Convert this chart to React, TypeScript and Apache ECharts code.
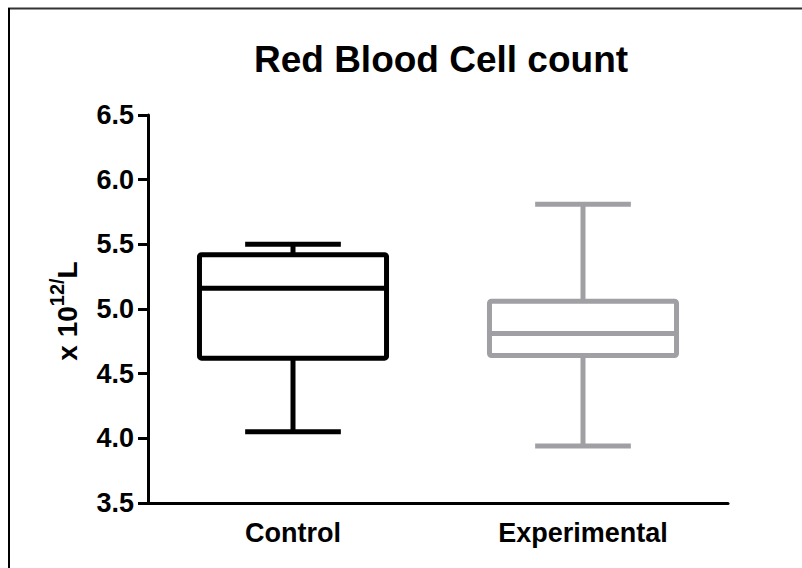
import React, { useEffect, useRef } from "react";
import * as echarts from "echarts";

const categories = ["Control", "Experimental"];
const whiskerMin = [4.05, 3.94];
const quartile1 = [4.62, 4.64];
const medians = [5.16, 4.81];
const quartile3 = [5.42, 5.06];
const whiskerMax = [5.5, 5.81];
const boxColors = ["#000000", "#a0a0a4"];

const FONT = "'Liberation Sans', Arial, sans-serif";

export default function App() {
  const ref = useRef<HTMLDivElement>(null);
  useEffect(() => {
    if (!ref.current) return;
    const chart = echarts.init(ref.current, undefined, { renderer: "svg" });
    const data = categories.map((_, i) => [
      i,
      whiskerMin[i],
      quartile1[i],
      medians[i],
      quartile3[i],
      whiskerMax[i],
    ]);
    chart.setOption({
      animation: false,
      backgroundColor: "#ffffff",
      title: {
        text: "Red Blood Cell count",
        left: 436,
        top: 36,
        textAlign: "center",
        textStyle: { fontSize: 37, fontWeight: "bold", color: "#000", fontFamily: FONT },
      },
      grid: { left: 148, right: 74, top: 115, bottom: 65 },
      xAxis: {
        type: "category",
        data: categories,
        axisLine: { lineStyle: { color: "#000", width: 3 } },
        axisTick: { alignWithLabel: true, length: 10, lineStyle: { width: 3, color: "#000" } },
        axisLabel: { color: "#000", fontSize: 27, fontWeight: "bold", fontFamily: FONT, margin: 16 },
        splitLine: { show: false },
      },
      yAxis: {
        type: "value",
        min: 3.5,
        max: 6.5,
        interval: 0.5,
        axisLine: { show: true, lineStyle: { color: "#000", width: 3 } },
        axisTick: { show: true, length: 10, lineStyle: { width: 3, color: "#000" } },
        axisLabel: {
          color: "#000",
          fontSize: 27,
          fontWeight: "bold",
          fontFamily: FONT,
          margin: 14,
          formatter: (v: number) => v.toFixed(1),
        },
        splitLine: { show: false },
      },
      graphic: [
        {
          type: "line",
          shape: { x1: 8, y1: 8.5, x2: 802, y2: 8.5 },
          style: { stroke: "#333", lineWidth: 2 },
        },
        {
          type: "line",
          shape: { x1: 9, y1: 8, x2: 9, y2: 568 },
          style: { stroke: "#000", lineWidth: 2 },
        },
        {
          type: "text",
          x: 64,
          y: 311,
          rotation: Math.PI / 2,
          style: {
            text: "{a|x 10}{b|12/}{a|L}",
            align: "center",
            verticalAlign: "middle",
            rich: {
              a: { fontSize: 28, fontWeight: "bold", fontFamily: FONT, fill: "#000", verticalAlign: "bottom", lineHeight: 34 },
              b: { fontSize: 20, fontWeight: "bold", fontFamily: FONT, fill: "#000", verticalAlign: "top", lineHeight: 34 },
            },
          },
        },
      ],
      series: [
        {
          type: "custom",
          data,
          encode: { x: 0, y: [1, 2, 3, 4, 5] },
          renderItem: (params: any, api: any) => {
            const idx = api.value(0);
            const color = boxColors[idx];
            const band = api.size([1, 0])[0];
            const pMin = api.coord([idx, api.value(1)]);
            const pQ1 = api.coord([idx, api.value(2)]);
            const pMed = api.coord([idx, api.value(3)]);
            const pQ3 = api.coord([idx, api.value(4)]);
            const pMax = api.coord([idx, api.value(5)]);
            const cx = pMin[0];
            const bw = band * 0.645;
            const cw = band * 0.33;
            const lineStyle = { stroke: color, lineWidth: 5, fill: "none" };
            return {
              type: "group",
              children: [
                {
                  type: "line",
                  shape: { x1: cx, y1: pQ3[1], x2: cx, y2: pMax[1] },
                  style: lineStyle,
                },
                {
                  type: "line",
                  shape: { x1: cx, y1: pQ1[1], x2: cx, y2: pMin[1] },
                  style: lineStyle,
                },
                {
                  type: "line",
                  shape: { x1: cx - cw / 2, y1: pMax[1], x2: cx + cw / 2, y2: pMax[1] },
                  style: lineStyle,
                },
                {
                  type: "line",
                  shape: { x1: cx - cw / 2, y1: pMin[1], x2: cx + cw / 2, y2: pMin[1] },
                  style: lineStyle,
                },
                {
                  type: "rect",
                  shape: { x: cx - bw / 2, y: pQ3[1], width: bw, height: pQ1[1] - pQ3[1], r: 2 },
                  style: { stroke: color, lineWidth: 5, fill: "none", lineJoin: "round" },
                },
                {
                  type: "line",
                  shape: { x1: cx - bw / 2, y1: pMed[1], x2: cx + bw / 2, y2: pMed[1] },
                  style: lineStyle,
                },
              ],
            };
          },
        },
      ],
    });
    return () => chart.dispose();
  }, []);
  return (
    <div
      ref={ref}
      style={{ position: "fixed", left: 0, top: 0, width: 802, height: 568, background: "#fff" }}
    />
  );
}
